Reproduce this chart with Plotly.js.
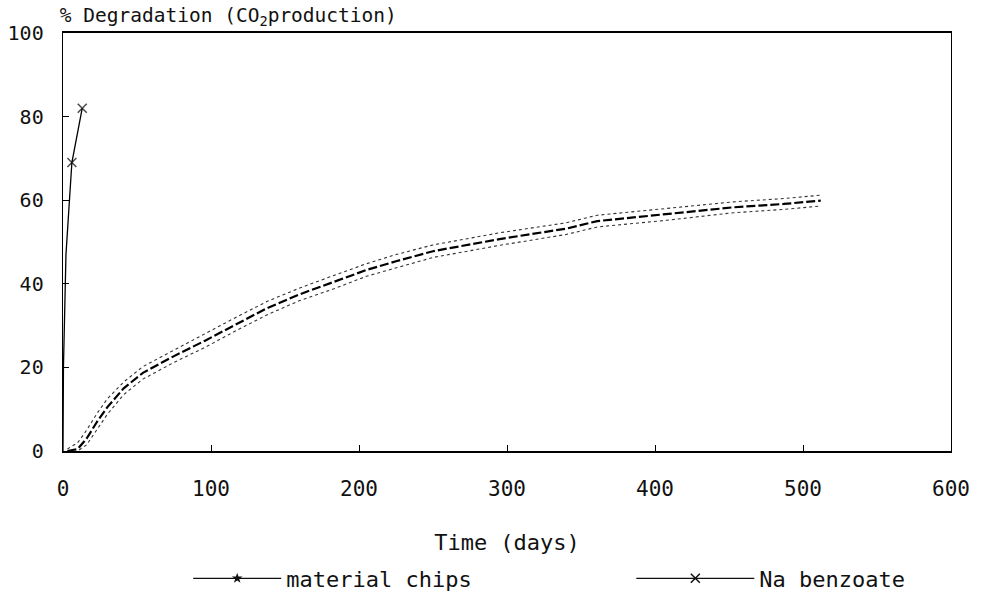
<!DOCTYPE html>
<html>
<head>
<meta charset="utf-8">
<script src="https://cdn.plot.ly/plotly-3.0.1.min.js"></script>
<style>
html,body{margin:0;padding:0;background:#fff;}
#chart{width:981px;height:608px;}
</style>
</head>
<body>
<div id="chart"></div>
<script>
// Material chips: mean curve
var chipsDays  = [3, 10, 16, 23, 30, 41, 54, 75, 96, 117, 138, 160, 183, 205, 225, 250, 295, 340, 361, 408, 453, 487, 512];
var chipsMean  = [0, 0.5, 3, 7, 10.5, 15, 18.7, 22.7, 26.4, 30.4, 34.2, 37.5, 40.4, 43.3, 45.4, 47.8, 50.7, 53.2, 55.0, 56.6, 58.3, 59.1, 59.9];
// Material chips: dotted replicate envelope
var chipsUpper = [0.5, 2, 5, 9, 12.5, 16.5, 20.2, 24.2, 28, 32, 35.8, 39, 42, 44.8, 47, 49.3, 52.2, 54.6, 56.4, 58, 59.6, 60.4, 61.2];
var chipsLower = [0, 0, 1.5, 5, 8.8, 13.5, 17.2, 21.2, 24.8, 28.8, 32.6, 36, 38.8, 41.8, 43.8, 46.3, 49.2, 51.8, 53.6, 55.2, 57, 57.8, 58.6];
// Na benzoate reference
var benzDays = [0, 0.3, 2, 6, 13];
var benzVals = [0, 20, 47, 69, 82];
var benzMarkerSize = [0, 0, 0, 9, 9];

var xTicks = [0, 100, 200, 300, 400, 500, 600];
var yTicks = [0, 20, 40, 60, 80, 100];
var seriesNames = ['material chips', 'Na benzoate'];

var mono = "DejaVu Sans Mono";
var ink = '#111';

var traces = [
  {x: chipsDays, y: chipsUpper, mode: 'lines', line: {color: '#333', width: 1.1, dash: 'dot'}, showlegend: false, hoverinfo: 'skip'},
  {x: chipsDays, y: chipsLower, mode: 'lines', line: {color: '#333', width: 1.1, dash: 'dot'}, showlegend: false, hoverinfo: 'skip'},
  {x: chipsDays, y: chipsMean, mode: 'lines', name: seriesNames[0], showlegend: false,
   line: {color: '#000', width: 2.2, dash: '9px,3px'}},
  {x: benzDays, y: benzVals, mode: 'lines+markers', name: seriesNames[1], showlegend: false,
   line: {color: '#000', width: 1.3}, marker: {symbol: 'x-thin', size: benzMarkerSize, color: '#000', line: {width: 1.5, color: '#000'}}},
  // legend keys (no data drawn)
  {x: [null], y: [null], mode: 'lines+markers', name: seriesNames[0], legend: 'legend',
   line: {color: ink, width: 1.2}, marker: {symbol: 'star', size: 8, color: ink}},
  {x: [null], y: [null], mode: 'lines+markers', name: seriesNames[1], legend: 'legend2',
   line: {color: ink, width: 1.2}, marker: {symbol: 'x-thin', size: 9, color: ink, line: {width: 1.5, color: ink}}}
];

var layout = {
  width: 981, height: 608,
  margin: {l: 63, r: 30, t: 33, b: 157, autoexpand: false},
  paper_bgcolor: '#fff', plot_bgcolor: '#fff',
  font: {family: mono, size: 19, color: ink},
  title: {text: '% Degradation (CO<sub>2</sub>production)', x: 0.061, xref: 'container', xanchor: 'left',
          y: 0.975, yref: 'container', yanchor: 'middle', font: {family: mono, size: 19.5, color: ink}},
  xaxis: {range: [0, 600], tickvals: xTicks, ticktext: xTicks.map(String), showgrid: false, zeroline: false,
          showline: true, linecolor: '#000', linewidth: 2, mirror: true, automargin: false,
          ticks: 'inside', ticklen: 6, tickcolor: '#000', tickwidth: 1,
          tickfont: {family: mono, size: 21, color: ink}, ticklabelstandoff: 18,
          title: {text: 'Time (days)', font: {family: mono, size: 22, color: ink}, standoff: 34}},
  yaxis: {range: [0, 100], tickvals: yTicks, ticktext: yTicks.map(String), showgrid: false, zeroline: false,
          showline: true, linecolor: '#000', linewidth: 1.3, mirror: true, automargin: false,
          ticks: 'inside', ticklen: 6, tickcolor: '#000', tickwidth: 1,
          tickfont: {family: mono, size: 20, color: ink}, ticklabelstandoff: 14},
  showlegend: true,
  legend: {orientation: 'h', x: 0.141, xanchor: 'left', y: -0.305, yanchor: 'middle',
           font: {family: mono, size: 22, color: ink}, itemwidth: 88, bgcolor: 'rgba(0,0,0,0)'},
  legend2: {orientation: 'h', x: 0.64, xanchor: 'left', y: -0.305, yanchor: 'middle',
           font: {family: mono, size: 22, color: ink}, itemwidth: 118, bgcolor: 'rgba(0,0,0,0)'}
};

Plotly.newPlot('chart', traces, layout, {displayModeBar: false, staticPlot: true});
</script>
</body>
</html>
